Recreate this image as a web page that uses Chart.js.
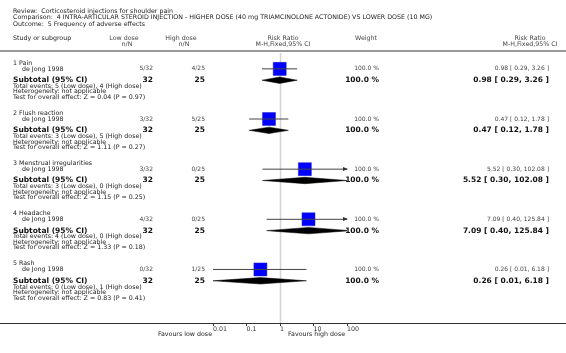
<!DOCTYPE html>
<html lang="en">
<head>
    <meta charset="UTF-8">
    <title>Frequency of adverse effects</title>
    <script src="https://cdn.jsdelivr.net/npm/chart.js"></script>
    <style>
        body, html { margin: 0; padding: 0; background: #fff; overflow: hidden; }
        canvas { display: block; }
    </style>
</head>
<body>
    <canvas id="forest" width="566" height="353"></canvas>
    <script>
        // data
        const groups = ["Pain", "Flush reaction", "Menstrual irregularities", "Headache", "Rash"];
        const studyName = "de Jong 1998";
        const lowEvents = [5, 3, 3, 4, 0];
        const lowTotal = [32, 32, 32, 32, 32];
        const highEvents = [4, 5, 0, 0, 1];
        const highTotal = [25, 25, 25, 25, 25];
        const rr = [0.98, 0.47, 5.52, 7.09, 0.26];
        const rrLow = [0.29, 0.12, 0.30, 0.40, 0.01];
        const rrHigh = [3.26, 1.78, 102.08, 125.84, 6.18];
        const weights = ["100.0 %", "100.0 %", "100.0 %", "100.0 %", "100.0 %"];
        const zValues = ["0.04", "1.11", "1.15", "1.33", "0.83"];
        const pValues = ["0.97", "0.27", "0.25", "0.18", "0.41"];
        const xTicks = [0.01, 0.1, 1, 10, 100];

        // row offsets inside a group (in group units)
        const ROW = { head: 0, study: 0.116, sub: 0.342, tot: 0.464, het: 0.574, test: 0.685 };
        const DIAMOND_H = 0.064;

        const fmt = v => v.toFixed(2);
        const ciText = i => `${fmt(rr[i])} [ ${fmt(rrLow[i])}, ${fmt(rrHigh[i])} ]`;

        const datasets = [];
        groups.forEach((g, i) => {
            const y = i + ROW.study;
            datasets.push({
                data: [{ x: rrLow[i], y: y }, { x: rrHigh[i], y: y }],
                showLine: true, borderColor: '#444', borderWidth: 1, pointRadius: 0
            });
        });
        datasets.push({
            data: groups.map((g, i) => ({ x: rr[i], y: i + ROW.study })),
            pointStyle: 'rect', pointRadius: 9.2, backgroundColor: '#0000ff',
            borderColor: '#2020c0', borderWidth: 0.5
        });
        groups.forEach((g, i) => {
            const y = i + ROW.sub;
            datasets.push({
                data: [
                    { x: rrLow[i], y: y }, { x: rr[i], y: y - DIAMOND_H },
                    { x: rrHigh[i], y: y }, { x: rr[i], y: y + DIAMOND_H },
                    { x: rrLow[i], y: y }
                ],
                showLine: true, fill: 'shape', borderColor: '#000', borderWidth: 0.5,
                backgroundColor: '#000', pointRadius: 0, tension: 0
            });
        });

        const FONT = '"DejaVu Sans", Verdana, sans-serif';
        const FS = 6.3;   // plain text
        const FD = 6.0;   // study row numbers
        const FB = 7.5;   // bold subtotal rows
        function txt(ctx, s, x, y, size, align, bold, color) {
            ctx.font = (bold ? 'bold ' : '') + size + 'px ' + FONT;
            ctx.textAlign = align;
            ctx.textBaseline = 'middle';
            ctx.fillStyle = color || '#222';
            ctx.fillText(s, x, y);
        }

        const forestText = {
            id: 'forestText',
            beforeDatasetsDraw(chart) {
                const ctx = chart.ctx, xs = chart.scales.x;
                ctx.save();
                // line of no effect
                const x1 = Math.round(xs.getPixelForValue(1)) + 0.5;
                ctx.strokeStyle = '#d4d4d4';
                ctx.lineWidth = 1.5;
                ctx.beginPath();
                ctx.moveTo(x1, 53);
                ctx.lineTo(x1, xs.top);
                ctx.stroke();
                ctx.restore();
            },
            afterDraw(chart) {
                const ctx = chart.ctx, xs = chart.scales.x, ys = chart.scales.y;
                ctx.save();
                // titles
                txt(ctx, 'Review:  Corticosteroid injections for shoulder pain', 13, 11, FS, 'left');
                txt(ctx, 'Comparison:  4 INTRA-ARTICULAR STEROID INJECTION - HIGHER DOSE (40 mg TRIAMCINOLONE ACTONIDE) VS LOWER DOSE (10 MG)', 13, 17.5, FS, 'left');
                txt(ctx, 'Outcome:  5 Frequency of adverse effects', 13, 24, FS, 'left');
                // column headers
                txt(ctx, 'Study or subgroup', 13, 38, FS, 'left');
                txt(ctx, 'Low dose', 124, 38, FS, 'center', false, '#444');
                txt(ctx, 'n/N', 127, 44, FS, 'center', false, '#444');
                txt(ctx, 'High dose', 181, 38, FS, 'center', false, '#444');
                txt(ctx, 'n/N', 184, 44, FS, 'center', false, '#444');
                const xc = xs.getPixelForValue(1);
                txt(ctx, 'Risk Ratio', xc + 3, 38, FS, 'center', false, '#444');
                txt(ctx, 'M-H,Fixed,95% CI', xc + 3, 44, FS, 'center', false, '#444');
                txt(ctx, 'Weight', 366, 38, FS, 'center', false, '#444');
                txt(ctx, 'Risk Ratio', 530, 38, FS, 'center', false, '#444');
                txt(ctx, 'M-H,Fixed,95% CI', 530, 44, FS, 'center', false, '#444');
                // header rule
                ctx.strokeStyle = '#999';
                ctx.lineWidth = 2;
                ctx.beginPath();
                ctx.moveTo(0, 51);
                ctx.lineTo(566, 51);
                ctx.stroke();

                groups.forEach((g, i) => {
                    const yp = r => ys.getPixelForValue(i + r);
                    txt(ctx, `${i + 1} ${g}`, 13, yp(ROW.head), FS, 'left');
                    txt(ctx, studyName, 22, yp(ROW.study), FS, 'left');
                    txt(ctx, `${lowEvents[i]}/${lowTotal[i]}`, 153, yp(ROW.study), FD, 'right', false, '#444');
                    txt(ctx, `${highEvents[i]}/${highTotal[i]}`, 205, yp(ROW.study), FD, 'right', false, '#444');
                    txt(ctx, weights[i], 379, yp(ROW.study), FD, 'right', false, '#444');
                    txt(ctx, ciText(i), 549, yp(ROW.study), FD, 'right', false, '#444');

                    txt(ctx, 'Subtotal (95% CI)', 13, yp(ROW.sub), FB, 'left', true, '#111');
                    txt(ctx, String(lowTotal[i]), 153, yp(ROW.sub), FB, 'right', true, '#111');
                    txt(ctx, String(highTotal[i]), 205, yp(ROW.sub), FB, 'right', true, '#111');
                    txt(ctx, weights[i], 379, yp(ROW.sub), FB, 'right', true, '#111');
                    txt(ctx, ciText(i), 549, yp(ROW.sub), FB, 'right', true, '#111');

                    txt(ctx, `Total events: ${lowEvents[i]} (Low dose), ${highEvents[i]} (High dose)`, 13, yp(ROW.tot), FS, 'left');
                    txt(ctx, 'Heterogeneity: not applicable', 13, yp(ROW.het), FS, 'left');
                    txt(ctx, `Test for overall effect: Z = ${zValues[i]} (P = ${pValues[i]})`, 13, yp(ROW.test), FS, 'left');

                    // arrow heads where the CI runs off the axis
                    const y = Math.round(yp(ROW.study));
                    ctx.fillStyle = '#333';
                    if (rrHigh[i] > xs.max) {
                        const xe = xs.right;
                        ctx.beginPath();
                        ctx.moveTo(xe + 1, y);
                        ctx.lineTo(xe - 4, y - 2);
                        ctx.lineTo(xe - 4, y + 2);
                        ctx.closePath();
                        ctx.fill();
                    }
                    if (rrLow[i] < xs.min) {
                        const xb = xs.left;
                        ctx.beginPath();
                        ctx.moveTo(xb - 1, y);
                        ctx.lineTo(xb + 4, y - 2);
                        ctx.lineTo(xb + 4, y + 2);
                        ctx.closePath();
                        ctx.fill();
                    }
                });

                // axis line across the full width
                ctx.strokeStyle = '#333';
                ctx.lineWidth = 1;
                ctx.beginPath();
                ctx.moveTo(0, Math.round(xs.top) + 0.5);
                ctx.lineTo(566, Math.round(xs.top) + 0.5);
                ctx.stroke();

                txt(ctx, 'Favours low dose', xs.left - 1, 334, FS, 'right');
                txt(ctx, 'Favours high dose', xs.getPixelForValue(1) + 8, 334, FS, 'left');
                ctx.restore();
            }
        };

        new Chart(document.getElementById('forest'), {
            type: 'scatter',
            data: { datasets: datasets },
            options: {
                responsive: false,
                animation: false,
                events: [],
                devicePixelRatio: 1,
                layout: { padding: { left: 213, right: 219, top: 0, bottom: 0 } },
                plugins: { legend: { display: false }, tooltip: { enabled: false } },
                scales: {
                    x: {
                        type: 'logarithmic',
                        min: 0.01,
                        max: 100,
                        afterBuildTicks: scale => { scale.ticks = xTicks.map(v => ({ value: v })); },
                        afterFit: scale => { scale.height = 30; },
                        border: { display: false },
                        grid: { drawOnChartArea: false, drawTicks: true, tickLength: 3, color: '#333' },
                        ticks: {
                            autoSkip: false, maxRotation: 0, align: 'start', padding: 0,
                            color: '#333', font: { size: FS, family: FONT },
                            callback: v => String(v)
                        }
                    },
                    y: {
                        type: 'linear',
                        reverse: true,
                        min: -1.064,
                        max: 5.184,
                        display: false
                    }
                }
            },
            plugins: [forestText]
        });
    </script>
</body>
</html>
